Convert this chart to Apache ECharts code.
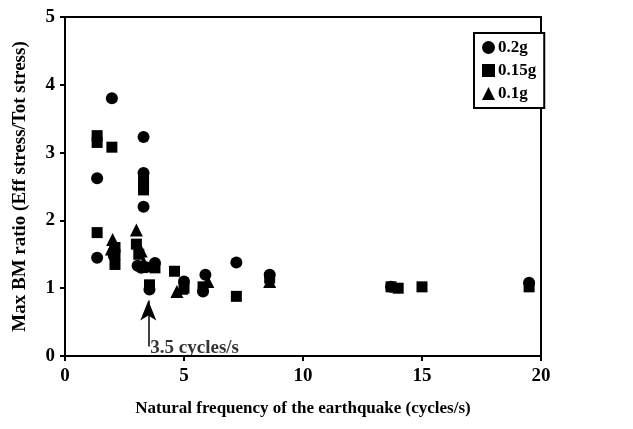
<!DOCTYPE html>
<html>
<head>
<meta charset="utf-8">
<script src="https://cdn.jsdelivr.net/npm/echarts@6/dist/echarts.min.js"></script>
<style>
  html, body { margin: 0; padding: 0; background: #fff; }
  #chart { width: 633px; height: 429px; }
</style>
</head>
<body>
<div id="chart"></div>
<script>
// Peak base-motion ratio vs. natural frequency of each earthquake record
const pga02 = [
  [1.35, 2.62], [1.35, 1.45], [1.97, 3.8], [2.05, 1.48],
  [3.3, 3.23], [3.3, 2.7], [3.3, 2.2],
  [3.05, 1.33], [3.2, 1.3], [3.4, 1.31],
  [3.78, 1.37], [3.55, 0.98],
  [5.0, 1.1], [5.8, 0.95], [5.9, 1.2],
  [7.2, 1.38], [8.6, 1.2], [13.7, 1.02], [19.5, 1.08]
];
const pga015 = [
  [1.35, 3.25], [1.35, 3.15], [1.35, 1.82], [1.97, 3.08],
  [2.1, 1.6], [2.1, 1.5], [2.1, 1.35],
  [3.3, 2.6], [3.3, 2.52], [3.3, 2.45],
  [3.0, 1.65], [3.1, 1.5],
  [3.78, 1.3], [3.55, 1.05],
  [4.6, 1.25], [5.0, 1.0], [5.8, 1.02],
  [7.2, 0.88], [8.6, 1.15],
  [13.7, 1.02], [14.0, 1.0], [15.0, 1.02], [19.5, 1.02]
];
const pga01 = [
  [2.0, 1.72], [2.05, 1.65], [1.95, 1.58],
  [3.0, 1.86], [3.2, 1.55], [3.3, 1.38],
  [4.7, 0.95], [4.9, 1.0], [6.0, 1.1], [8.6, 1.1]
];
const seriesNames = ['0.2g', '0.15g', '0.1g'];
const xTicks = { min: 0, max: 20, step: 5 };
const yTicks = { min: 0, max: 5, step: 1 };
const threshold = 3.5;
const thresholdText = '3.5 cycles/s';

const serif = '"Liberation Serif", "DejaVu Serif", serif';
const solidBlack = { color: '#000', opacity: 1 };
const chart = echarts.init(document.getElementById('chart'));

chart.setOption({
  animation: false,
  backgroundColor: '#fff',
  grid: {
    left: 65, right: 92, top: 17, bottom: 73,
    show: true, borderColor: '#000', borderWidth: 2, backgroundColor: 'transparent'
  },
  legend: {
    orient: 'vertical',
    left: 474, top: 33,
    padding: [6, 8, 6, 8],
    itemGap: 6,
    itemWidth: 13, itemHeight: 13,
    borderColor: '#000', borderWidth: 2,
    backgroundColor: '#fff',
    itemStyle: { opacity: 1 },
    textStyle: { fontFamily: serif, fontWeight: 'bold', fontSize: 17, color: '#000', padding: [0, 0, 0, -2] },
    data: [
      { name: seriesNames[0], icon: 'circle' },
      { name: seriesNames[1], icon: 'rect' },
      { name: seriesNames[2], icon: 'triangle' }
    ]
  },
  xAxis: {
    type: 'value',
    min: xTicks.min, max: xTicks.max, interval: xTicks.step,
    name: 'Natural frequency of the earthquake (cycles/s)',
    nameLocation: 'middle', nameGap: 44,
    nameTextStyle: { fontFamily: serif, fontWeight: 'bold', fontSize: 17, color: '#000' },
    axisLine: { onZero: false, lineStyle: { color: '#000', width: 2 } },
    axisTick: { show: true, inside: false, length: 5, lineStyle: { color: '#000', width: 2 } },
    axisLabel: { fontFamily: serif, fontWeight: 'bold', fontSize: 19, color: '#000', margin: 11 },
    splitLine: { show: false }
  },
  yAxis: {
    type: 'value',
    min: yTicks.min, max: yTicks.max, interval: yTicks.step,
    name: 'Max BM ratio (Eff stress/Tot stress)',
    nameLocation: 'middle', nameGap: 35,
    nameTextStyle: { fontFamily: serif, fontWeight: 'bold', fontSize: 19, color: '#000' },
    axisLine: { onZero: false, lineStyle: { color: '#000', width: 2 } },
    axisTick: { show: true, inside: false, length: 5, lineStyle: { color: '#000', width: 2 } },
    axisLabel: { fontFamily: serif, fontWeight: 'bold', fontSize: 19, color: '#000', margin: 10 },
    splitLine: { show: false }
  },
  series: [
    {
      name: seriesNames[0], type: 'scatter', symbol: 'circle', symbolSize: 12,
      itemStyle: solidBlack, data: pga02
    },
    {
      name: seriesNames[1], type: 'scatter', symbol: 'rect', symbolSize: 11,
      itemStyle: solidBlack, data: pga015
    },
    {
      name: seriesNames[2], type: 'scatter', symbol: 'triangle', symbolSize: 13,
      itemStyle: solidBlack, data: pga01
    },
    {
      // threshold annotation: arrow plus caption
      name: 'threshold', type: 'scatter', symbolSize: 0, silent: true,
      data: [[threshold, 0.12]],
      label: {
        show: true, position: 'right', distance: 2,
        formatter: thresholdText,
        fontFamily: serif, fontWeight: 'bold', fontSize: 19, color: '#000'
      },
      markLine: {
        silent: true, animation: false,
        symbol: ['none', 'arrow'], symbolSize: [12, 20],
        lineStyle: { color: '#000', width: 1.5, type: 'solid' },
        label: { show: false },
        data: [[{ coord: [threshold, 0.14] }, { coord: [threshold, 0.82] }]]
      }
    }
  ]
});
</script>
</body>
</html>
